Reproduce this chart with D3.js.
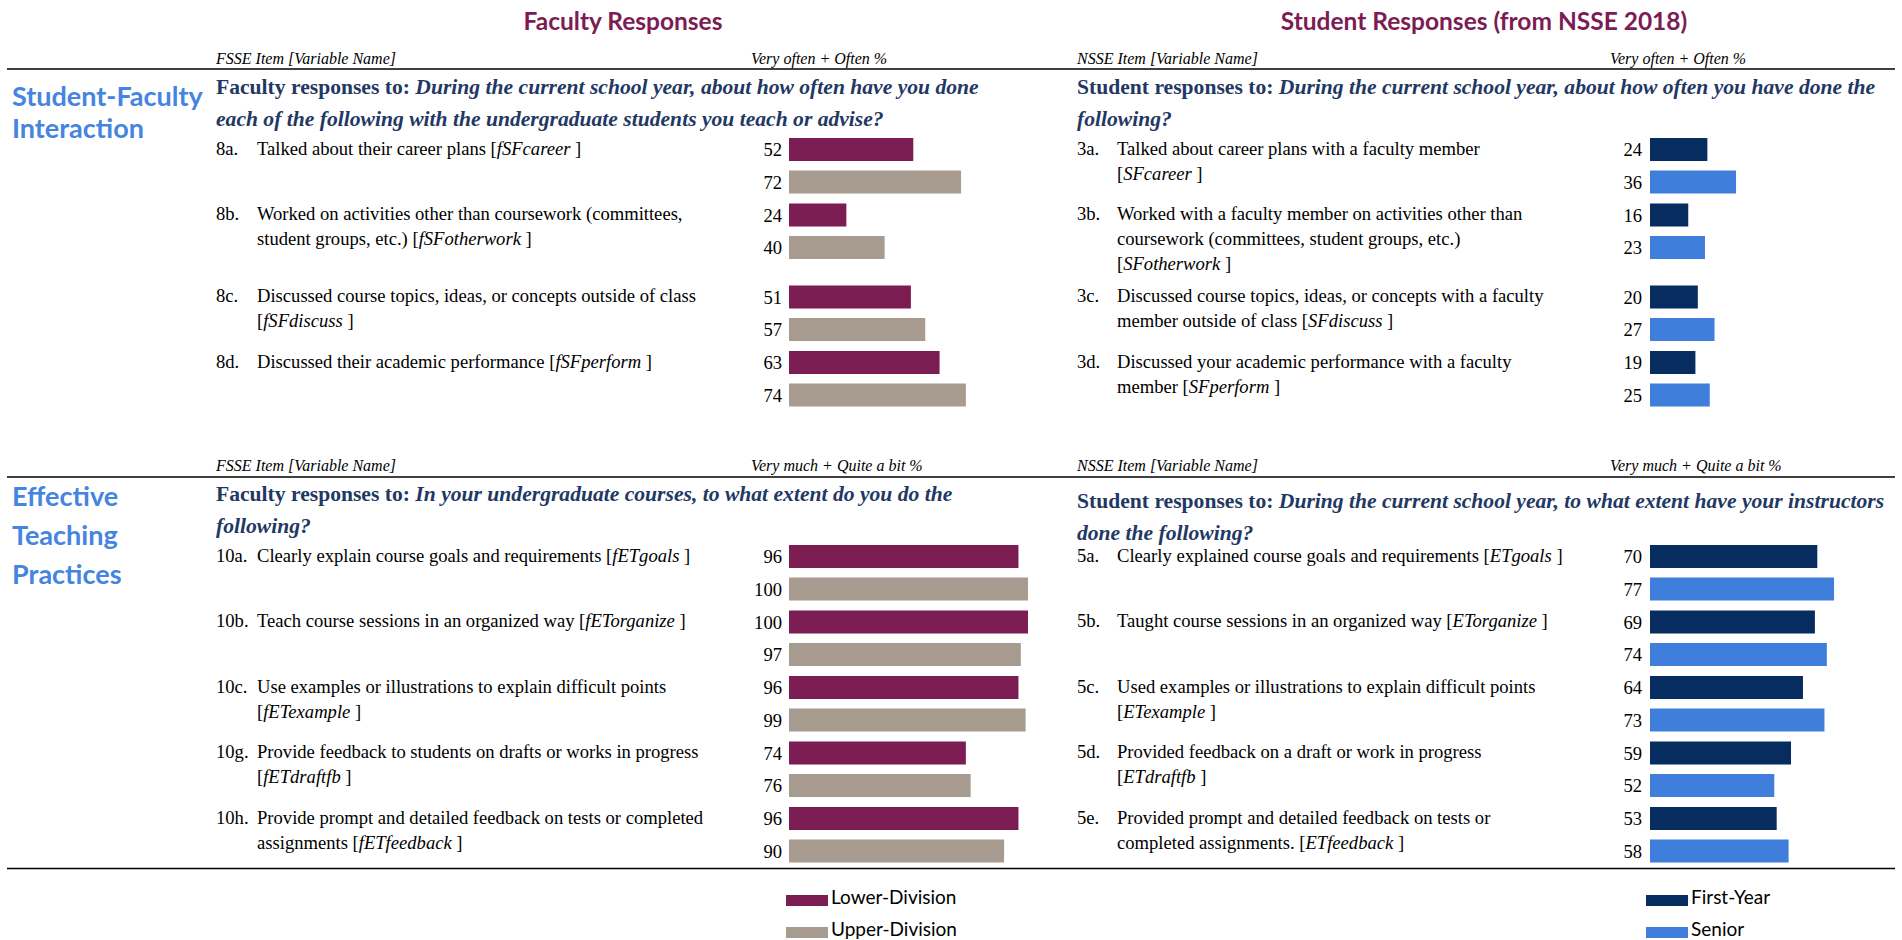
<!DOCTYPE html>
<html>
<head>
<meta charset="utf-8">
<script src="https://cdn.jsdelivr.net/npm/d3@7"></script>
<style>
  body { margin: 0; background: #fff; }
  svg text { font-family: "Liberation Serif", "Times New Roman", serif; fill: #000; }
  svg text.sans { font-family: Lato, "Open Sans", sans-serif; }
</style>
</head>
<body>
<svg id="chart" width="1902" height="940"></svg>
<script>
// ---- data ----
var panelTitles = ["Faculty Responses", "Student Responses (from NSSE 2018)"];
var itemHeads = ["FSSE Item [Variable Name]", "NSSE Item [Variable Name]"];
var scaleHeads = ["Very often + Often %", "Very much + Quite a bit %"];
var sectionNames = [["Student-Faculty", "Interaction"], ["Effective", "Teaching", "Practices"]];

var facultySeries = ["Lower-Division", "Upper-Division"];
var studentSeries = ["First-Year", "Senior"];

// Student-Faculty Interaction
var sfFacultyQuestion = ["Faculty responses to: ", "During the current school year, about how often have you done",
  "each of the following with the undergraduate students you teach or advise?"];
var sfStudentQuestion = ["Student responses to: ", "During the current school year, about how often you have done the",
  "following?"];
var sfFacultyCodes = ["8a.", "8b.", "8c.", "8d."];
var sfFacultyItems = [
  ["Talked about their career plans [*fSFcareer* ]"],
  ["Worked on activities other than coursework (committees,", "student groups, etc.) [*fSFotherwork* ]"],
  ["Discussed course topics, ideas, or concepts outside of class", "[*fSFdiscuss* ]"],
  ["Discussed their academic performance [*fSFperform* ]"]
];
var sfLower = [52, 24, 51, 63];
var sfUpper = [72, 40, 57, 74];
var sfStudentCodes = ["3a.", "3b.", "3c.", "3d."];
var sfStudentItems = [
  ["Talked about career plans with a faculty member", "[*SFcareer* ]"],
  ["Worked with a faculty member on activities other than", "coursework (committees, student groups, etc.)", "[*SFotherwork* ]"],
  ["Discussed course topics, ideas, or concepts with a faculty", "member outside of class [*SFdiscuss* ]"],
  ["Discussed your academic performance with a faculty", "member [*SFperform* ]"]
];
var sfFirstYear = [24, 16, 20, 19];
var sfSenior = [36, 23, 27, 25];

// Effective Teaching Practices
var etFacultyQuestion = ["Faculty responses to: ", "In your undergraduate courses, to what extent do you do the",
  "following?"];
var etStudentQuestion = ["Student responses to: ", "During the current school year, to what extent have your instructors",
  "done the following?"];
var etFacultyCodes = ["10a.", "10b.", "10c.", "10g.", "10h."];
var etFacultyItems = [
  ["Clearly explain course goals and requirements [*fETgoals* ]"],
  ["Teach course sessions in an organized way [*fETorganize* ]"],
  ["Use examples or illustrations to explain difficult points", "[*fETexample* ]"],
  ["Provide feedback to students on drafts or works in progress", "[*fETdraftfb* ]"],
  ["Provide prompt and detailed feedback on tests or completed", "assignments [*fETfeedback* ]"]
];
var etLower = [96, 100, 96, 74, 96];
var etUpper = [100, 97, 99, 76, 90];
var etStudentCodes = ["5a.", "5b.", "5c.", "5d.", "5e."];
var etStudentItems = [
  ["Clearly explained course goals and requirements [*ETgoals* ]"],
  ["Taught course sessions in an organized way [*ETorganize* ]"],
  ["Used examples or illustrations to explain difficult points", "[*ETexample* ]"],
  ["Provided feedback on a draft or work in progress", "[*ETdraftfb* ]"],
  ["Provided prompt and detailed feedback on tests or", "completed assignments. [*ETfeedback* ]"]
];
var etFirstYear = [70, 69, 64, 59, 53];
var etSenior = [77, 74, 73, 52, 58];

// ---- look ----
var colors = {
  "Lower-Division": "#7b1c53", "Upper-Division": "#a89b90",
  "First-Year": "#062c60", "Senior": "#3f7fdb"
};
var navy = "#1f3864";
var maroon = "#7b1c53";
var sectionBlue = "#4584e0";

var panels = [
  { num: 216, text: 257, bar: 789, label: 782, head2: 751, title: 623 },
  { num: 1077, text: 1117, bar: 1650, label: 1642, head2: 1610, title: 1484 }
];

var svg = d3.select("#chart");

var x = d3.scaleLinear().domain([0, 100]).range([0, 239]);
var pair = d3.scaleBand().domain([0, 1]).range([0, 55.5]).paddingInner(0.292);

function richLine(g, str, px, py, size) {
  var t = g.append("text").attr("x", px).attr("y", py)
    .attr("dy", "0.35em").style("font-size", size + "px");
  str.split("*").forEach(function (part, i) {
    if (!part) return;
    t.append("tspan").text(part).style("font-style", i % 2 ? "italic" : null);
  });
  return t;
}

// titles
svg.selectAll("text.ptitle").data(panelTitles).enter().append("text")
  .attr("class", "sans ptitle")
  .attr("x", function (d, i) { return panels[i].title; })
  .attr("y", 30)
  .attr("text-anchor", "middle")
  .style("font-size", "24.5px").style("font-weight", 700)
  .style("fill", maroon)
  .text(function (d) { return d; });

function drawSection(s) {
  var g = svg.append("g");

  // item/scale headers and rule
  panels.forEach(function (p, i) {
    g.append("text").attr("x", p.num).attr("y", s.headY).attr("dy", "0.35em")
      .style("font-size", "16px").style("font-style", "italic").text(itemHeads[i]);
    g.append("text").attr("x", p.head2).attr("y", s.headY).attr("dy", "0.35em")
      .style("font-size", "16px").style("font-style", "italic").text(s.scaleHead);
  });
  g.append("line").attr("x1", 7).attr("x2", 1895).attr("y1", s.ruleY).attr("y2", s.ruleY)
    .attr("stroke", "#000").attr("stroke-width", 1.6);

  // section name
  s.name.forEach(function (n, i) {
    g.append("text").attr("class", "sans").attr("x", 12).attr("y", s.nameY + i * s.nameStep)
      .attr("dy", "0.35em").style("font-size", "27px").style("font-weight", 700)
      .style("fill", sectionBlue).text(n);
  });

  // questions
  s.questions.forEach(function (q, i) {
    var p = panels[i];
    var qy = s.qY[i];
    var t = g.append("text").attr("x", p.num).attr("y", qy).attr("dy", "0.35em")
      .style("font-size", "21.6px").style("font-weight", 700).style("fill", navy);
    t.append("tspan").text(q[0]);
    t.append("tspan").style("font-style", "italic").text(q[1]);
    g.append("text").attr("x", p.num).attr("y", qy + 32).attr("dy", "0.35em")
      .style("font-size", "21.6px").style("font-weight", 700).style("font-style", "italic")
      .style("fill", navy).text(q[2]);
  });

  // row positions from the number of text lines
  var lines = s.items[0].map(function (d, i) { return Math.max(d.length, s.items[1][i].length); });
  var tops = [];
  lines.reduce(function (acc, n) { tops.push(acc); return acc + Math.max(65.5, n * 25 + 7); }, s.rowsTop);

  panels.forEach(function (p, pi) {
    var pg = g.append("g");
    // codes and item text
    s.codes[pi].forEach(function (c, r) {
      pg.append("text").attr("x", p.num).attr("y", tops[r] + 10).attr("dy", "0.35em")
        .style("font-size", "18.6px").text(c);
      s.items[pi][r].forEach(function (ln, k) {
        richLine(pg, ln, p.text, tops[r] + 10 + k * 25, 18.6);
      });
    });
    // bars
    s.series[pi].forEach(function (name, k) {
      var vals = s.values[pi][k];
      pg.selectAll(null).data(vals).enter().append("rect")
        .attr("x", p.bar)
        .attr("y", function (d, r) { return tops[r] + pair(k); })
        .attr("width", function (d) { return x(d); })
        .attr("height", pair.bandwidth())
        .attr("fill", colors[name]);
      pg.selectAll(null).data(vals).enter().append("text")
        .attr("x", p.label)
        .attr("y", function (d, r) { return tops[r] + pair(k) + pair.bandwidth() / 2; })
        .attr("dy", "0.35em").attr("text-anchor", "end")
        .style("font-size", "18.6px")
        .text(function (d) { return d; });
    });
  });
}

drawSection({
  headY: 58, ruleY: 69, scaleHead: scaleHeads[0],
  name: sectionNames[0], nameY: 97, nameStep: 31.5,
  questions: [sfFacultyQuestion, sfStudentQuestion], qY: [86, 86],
  rowsTop: 138,
  codes: [sfFacultyCodes, sfStudentCodes],
  items: [sfFacultyItems, sfStudentItems],
  series: [facultySeries, studentSeries],
  values: [[sfLower, sfUpper], [sfFirstYear, sfSenior]]
});

drawSection({
  headY: 465, ruleY: 477, scaleHead: scaleHeads[1],
  name: sectionNames[1], nameY: 497, nameStep: 39,
  questions: [etFacultyQuestion, etStudentQuestion], qY: [493, 500],
  rowsTop: 545,
  codes: [etFacultyCodes, etStudentCodes],
  items: [etFacultyItems, etStudentItems],
  series: [facultySeries, studentSeries],
  values: [[etLower, etUpper], [etFirstYear, etSenior]]
});

// bottom rule
svg.append("line").attr("x1", 7).attr("x2", 1895).attr("y1", 868.5).attr("y2", 868.5)
  .attr("stroke", "#000").attr("stroke-width", 1.6);

// legends
[facultySeries, studentSeries].forEach(function (series, i) {
  var lx = [786, 1646][i];
  var lg = svg.append("g");
  lg.selectAll("rect").data(series).enter().append("rect")
    .attr("x", lx).attr("y", function (d, k) { return 895 + k * 32; })
    .attr("width", 42).attr("height", 11)
    .attr("fill", function (d) { return colors[d]; });
  lg.selectAll("text").data(series).enter().append("text")
    .attr("class", "sans")
    .attr("x", lx + 45).attr("y", function (d, k) { return 904 + k * 32; })
    .style("font-size", "19px")
    .text(function (d) { return d; });
});
</script>
</body>
</html>
